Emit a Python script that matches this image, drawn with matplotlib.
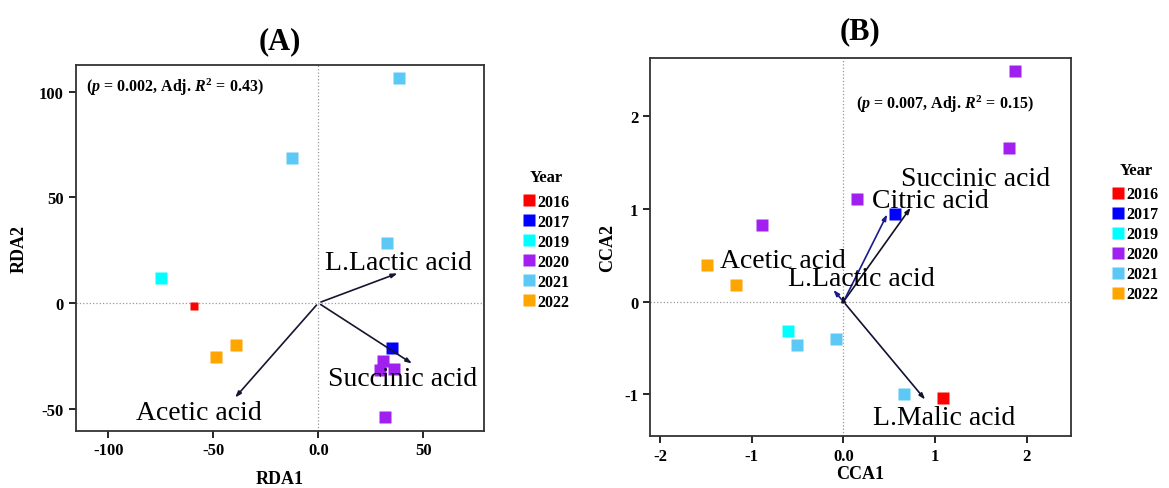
import matplotlib
matplotlib.use("Agg")
import matplotlib.pyplot as plt
from matplotlib.lines import Line2D

plt.rcParams['font.family'] = ['Liberation Serif', 'DejaVu Serif']
plt.rcParams['mathtext.fontset'] = 'custom'
plt.rcParams['mathtext.rm'] = 'Liberation Serif:bold'
plt.rcParams['mathtext.it'] = 'Liberation Serif:bold:italic'
plt.rcParams['axes.unicode_minus'] = False

years = ["2016", "2017", "2019", "2020", "2021", "2022"]
year_colors = {"2016": "#FF0000", "2017": "#0000FF", "2019": "#00FFFF",
               "2020": "#A020F0", "2021": "#5BC8F5", "2022": "#FFA500"}

# panel A: RDA sample scores
rda_year = ["2021", "2021", "2021", "2019", "2016", "2022", "2022",
            "2017", "2020", "2020", "2020", "2020"]
rda1 = [38.4, -12.7, 32.7, -74.9, -59.0, -39.2, -48.9, 35.1, 31.0, 29.4, 35.9, 31.6]
rda2 = [106.5, 68.6, 28.4, 11.8, -1.6, -20.1, -25.6, -21.2, -27.3, -31.8, -31.3, -54.0]

rda_env = ["L.Lactic acid", "Succinic acid", "Acetic acid"]
rda_env_x = [38.9, 45.7, -40.5]
rda_env_y = [14.5, -29.4, -45.8]
rda_lab_x = [38.0, 40.0, -56.8]
rda_lab_y = [19.3, -36.0, -51.8]

# panel B: CCA sample scores
cca_year = ["2020", "2020", "2020", "2017", "2020", "2022", "2022",
            "2019", "2021", "2021", "2021", "2016"]
cca1 = [1.87, 1.80, 0.15, 0.56, -0.89, -1.49, -1.17, -0.60, -0.51, -0.08, 0.66, 1.08]
cca2 = [2.49, 1.66, 1.11, 0.95, 0.83, 0.40, 0.18, -0.32, -0.47, -0.40, -1.00, -1.04]

cca_env = ["Succinic acid", "Citric acid", "Acetic acid", "L.Lactic acid", "L.Malic acid"]
cca_env_x = [0.75, 0.49, -0.01, -0.13, 0.91]
cca_env_y = [1.04, 0.97, 0.10, 0.15, -1.08]
cca_lab_x = [1.44, 0.95, -0.66, 0.20, 1.10]
cca_lab_y = [1.33, 1.09, 0.44, 0.25, -1.25]
cca_arrow_col = ["#111122", "#1a1a8a", "#111122", "#1a1a8a", "#111133"]


def style_axes(ax):
    for s in ax.spines.values():
        s.set_linewidth(1.3)
        s.set_color("#333333")
    ax.tick_params(direction="out", length=5, width=1.2, labelsize=12)
    for lab in ax.get_xticklabels() + ax.get_yticklabels():
        lab.set_fontweight("bold")
    ax.axhline(0, color="#999999", lw=0.9, ls=":", zorder=0)
    ax.axvline(0, color="#999999", lw=0.9, ls=":", zorder=0)


fig = plt.figure(figsize=(11.69, 4.89), dpi=100)
axA = fig.add_axes([0.0648, 0.1172, 0.3493, 0.7485])
axB = fig.add_axes([0.556, 0.1063, 0.3601, 0.773])

# ---- panel A
for x, y, yr in zip(rda1, rda2, rda_year):
    ms = 6 if yr == "2016" else 8
    axA.plot(x, y, "s", color=year_colors[yr], ms=ms, mec="none", zorder=3)
for nm, ex, ey, lx, ly in zip(rda_env, rda_env_x, rda_env_y, rda_lab_x, rda_lab_y):
    axA.annotate("", xy=(ex, ey), xytext=(0, 0),
                 arrowprops=dict(arrowstyle="-|>,head_length=0.35,head_width=0.12",
                                 color="#151530", lw=1.2))
    axA.text(lx, ly, nm, fontsize=20, ha="center", va="center", zorder=4)
axA.set_xlim(-115.5, 78.9)
axA.set_ylim(-60.5, 112.9)
axA.set_xticks([-100, -50, 0, 50])
axA.set_xticklabels(["-100", "-50", "0.0", "50"])
axA.set_yticks([-50, 0, 50, 100])
axA.set_xlabel("RDA1", fontsize=13, fontweight="bold", labelpad=8)
axA.set_ylabel("RDA2", fontsize=13, fontweight="bold", labelpad=8)
axA.set_title("(A)", fontsize=22, fontweight="bold", pad=12)
axA.text(0.025, 0.94, r"($p$ = 0.002, Adj. $R^2$ = 0.43)", transform=axA.transAxes,
         fontsize=11.5, fontweight="bold", va="center")
style_axes(axA)

# ---- panel B
for x, y, yr in zip(cca1, cca2, cca_year):
    axB.plot(x, y, "s", color=year_colors[yr], ms=8, mec="none", zorder=3)
for nm, ex, ey, lx, ly, c in zip(cca_env, cca_env_x, cca_env_y, cca_lab_x, cca_lab_y, cca_arrow_col):
    axB.annotate("", xy=(ex, ey), xytext=(0, 0),
                 arrowprops=dict(arrowstyle="-|>,head_length=0.35,head_width=0.12",
                                 color=c, lw=1.2))
    axB.text(lx, ly, nm, fontsize=20, ha="center", va="center", zorder=4)
axB.set_xlim(-2.11, 2.48)
axB.set_ylim(-1.45, 2.63)
axB.set_xticks([-2, -1, 0, 1, 2])
axB.set_xticklabels(["-2", "-1", "0.0", "1", "2"])
axB.set_yticks([-1, 0, 1, 2])
axB.set_xlabel("CCA1", fontsize=13, fontweight="bold", labelpad=1)
axB.set_ylabel("CCA2", fontsize=13, fontweight="bold", labelpad=6)
axB.set_title("(B)", fontsize=22, fontweight="bold", pad=14)
axB.text(0.49, 0.88, r"($p$ = 0.007, Adj. $R^2$ = 0.15)", transform=axB.transAxes,
         fontsize=11.5, fontweight="bold", va="center")
style_axes(axB)

# ---- legends
handles = [Line2D([], [], marker="s", ls="none", color=year_colors[y], mec="none", ms=8)
           for y in years]
for bx, by in [(0.443, 0.665), (0.947, 0.68)]:
    leg = fig.legend(handles, years, title="Year", loc="upper left",
                     bbox_to_anchor=(bx, by), frameon=False,
                     handlelength=0.6, handletextpad=0.2, labelspacing=0.25,
                     borderaxespad=0, prop={"weight": "bold", "size": 11.5})
    leg.get_title().set_fontweight("bold")
    leg.get_title().set_fontsize(12)
    leg._legend_box.sep = 6

fig.savefig("out.png", dpi=100)
